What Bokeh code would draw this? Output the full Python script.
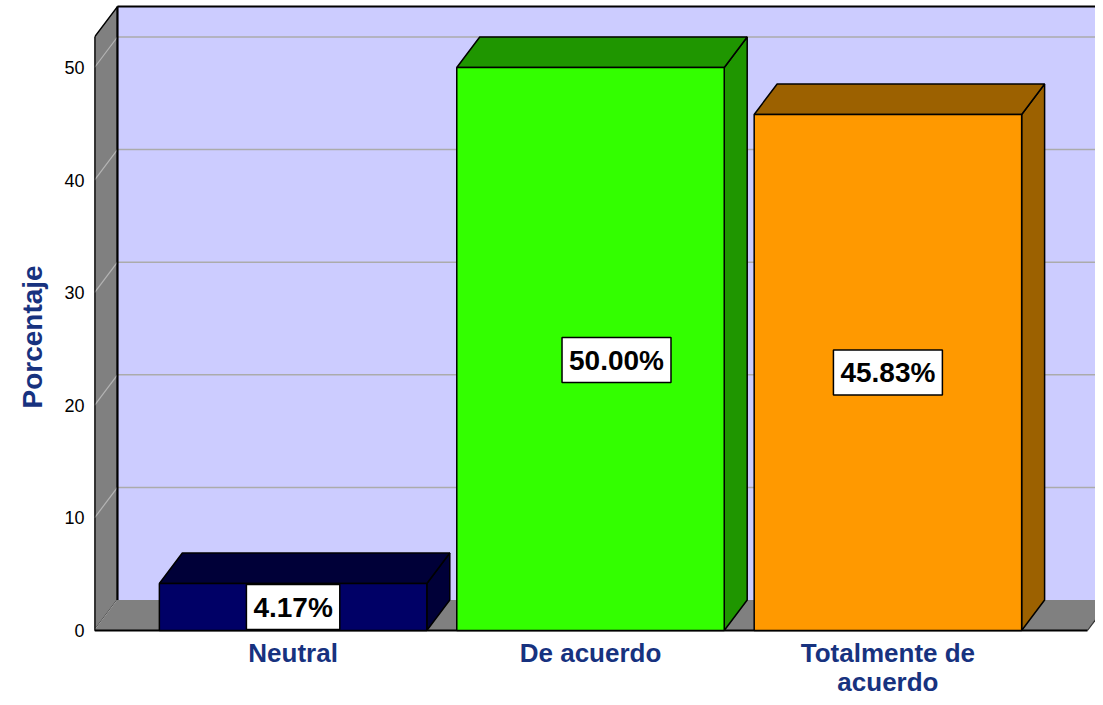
from bokeh.plotting import figure
from bokeh.models import Range1d, FixedTicker, Title
from bokeh.embed import file_html
from bokeh.resources import INLINE
from bokeh.core.properties import value

# ---------------- data ----------------
categories = ["Neutral", "De acuerdo", "Totalmente de\nacuerdo"]
percentages = [4.17, 50.00, 45.83]
value_labels = ["4.17%", "50.00%", "45.83%"]
y_ticks = [0, 10, 20, 30, 40, 50]
axis_max = 52.7          # top of the 3D walls (percent)
y_title = "Porcentaje"

# ---------------- styles / layout ----------------
front_colors = ["#000066", "#33FF00", "#FF9900"]
shade_colors = ["#000038", "#1F9600", "#9C6100"]
label_dx = [0, 26, 0]     # pixel nudges of value labels
label_dy = [0, 11, 0]
NAVY = "#17327F"
FONT = "Liberation Sans"

W, H = 1095, 697
LEFT = 92
PX_X = 298.0          # px per category
PX_Y = 11.26          # px per percent
ZERO_PX = 630         # canvas row of 0 %
x_start = -199.0 / PX_X
x_end = x_start + (W - LEFT) / PX_X
y_end = ZERO_PX / PX_Y
y_start = -(H - ZERO_PX) / PX_Y

DX = 23.0 / PX_X       # depth offsets in data units
DY = 30.5 / PX_Y
BW = 268.0 / PX_X      # bar width
floor_end = 2.671

p = figure(width=W, height=H, output_backend="svg", toolbar_location=None,
           x_range=Range1d(x_start, x_end), y_range=Range1d(y_start, y_end),
           x_axis_location=None, min_border_left=LEFT, min_border_right=0,
           min_border_top=0, min_border_bottom=0)
p.outline_line_color = None
p.grid.visible = False
p.background_fill_color = "white"

# back wall
p.quad(left=x_start + DX, right=x_end + 1, bottom=DY, top=axis_max + DY,
       fill_color="#CCCCFF", line_color=None)
gt = y_ticks[1:]
p.segment(x0=[x_start + DX] * len(gt), y0=[t + DY for t in gt],
          x1=[x_end + 1] * len(gt), y1=[t + DY for t in gt],
          line_color="#ABABAB", line_width=1.5)
p.line([x_start + DX, x_end + 1], [axis_max + DY] * 2, line_color="black", line_width=2)

# left wall
p.patch([x_start, x_start + DX, x_start + DX, x_start],
        [0, DY, axis_max + DY, axis_max],
        fill_color="#808080", line_color="black", line_width=1.5)
p.segment(x0=[x_start] * len(y_ticks), y0=y_ticks,
          x1=[x_start + DX] * len(y_ticks), y1=[t + DY for t in y_ticks],
          line_color="#B4B4B4", line_width=1.2)

# floor
p.patch([x_start, floor_end, floor_end + DX, x_start + DX],
        [0, 0, DY, DY], fill_color="#808080", line_color=None)
p.line([floor_end, floor_end + DX], [0, DY], line_color="#333333", line_width=1.2)
p.line([x_start, floor_end], [0, 0], line_color="black", line_width=2)
p.line([x_start, x_start], [0, axis_max], line_color="black", line_width=2)
p.line([x_start + DX, x_start + DX], [DY, axis_max + DY], line_color="black", line_width=2)

# bars
for i, v in enumerate(percentages):
    l, r = i - BW / 2, i + BW / 2
    p.patch([r, r + DX, r + DX, r], [0, DY, v + DY, v],
            fill_color=shade_colors[i], line_color="black", line_width=1.5)
    p.patch([l, r, r + DX, l + DX], [v, v, v + DY, v + DY],
            fill_color=shade_colors[i], line_color="black", line_width=1.5)
    p.quad(left=l, right=r, bottom=0, top=v,
           fill_color=front_colors[i], line_color="black", line_width=1.5)

# value labels
p.text(x=list(range(len(percentages))), y=[v / 2 for v in percentages],
       text=value_labels, x_offset=label_dx, y_offset=label_dy,
       text_align="center", text_baseline="middle",
       text_font=value(FONT), text_font_size="28px", text_font_style="bold",
       text_color="black", background_fill_color="white",
       border_line_color="black", border_line_width=1.5, padding=7)

# category labels
p.text(x=list(range(len(categories))), y=[0] * len(categories), text=categories,
       y_offset=[7] * len(categories), text_align="center", text_baseline="top",
       text_font=value(FONT), text_font_size="26px", text_font_style="bold",
       text_color=NAVY, text_line_height=0.97)

# y axis
ax = p.yaxis[0]
ax.ticker = FixedTicker(ticks=y_ticks)
ax.axis_line_color = None
ax.major_tick_line_color = None
ax.minor_tick_line_color = None
ax.major_tick_out = 0
ax.major_tick_in = 0
ax.major_label_standoff = 10
ax.major_label_text_font = FONT
ax.major_label_text_font_size = "18px"
ax.major_label_text_color = "black"

p.add_layout(Title(text=y_title, align="left", offset=289, standoff=28,
                   text_font=FONT, text_font_size="28px", text_font_style="bold",
                   text_color=NAVY), "left")

open("out.html", "w").write(file_html(p, INLINE))
